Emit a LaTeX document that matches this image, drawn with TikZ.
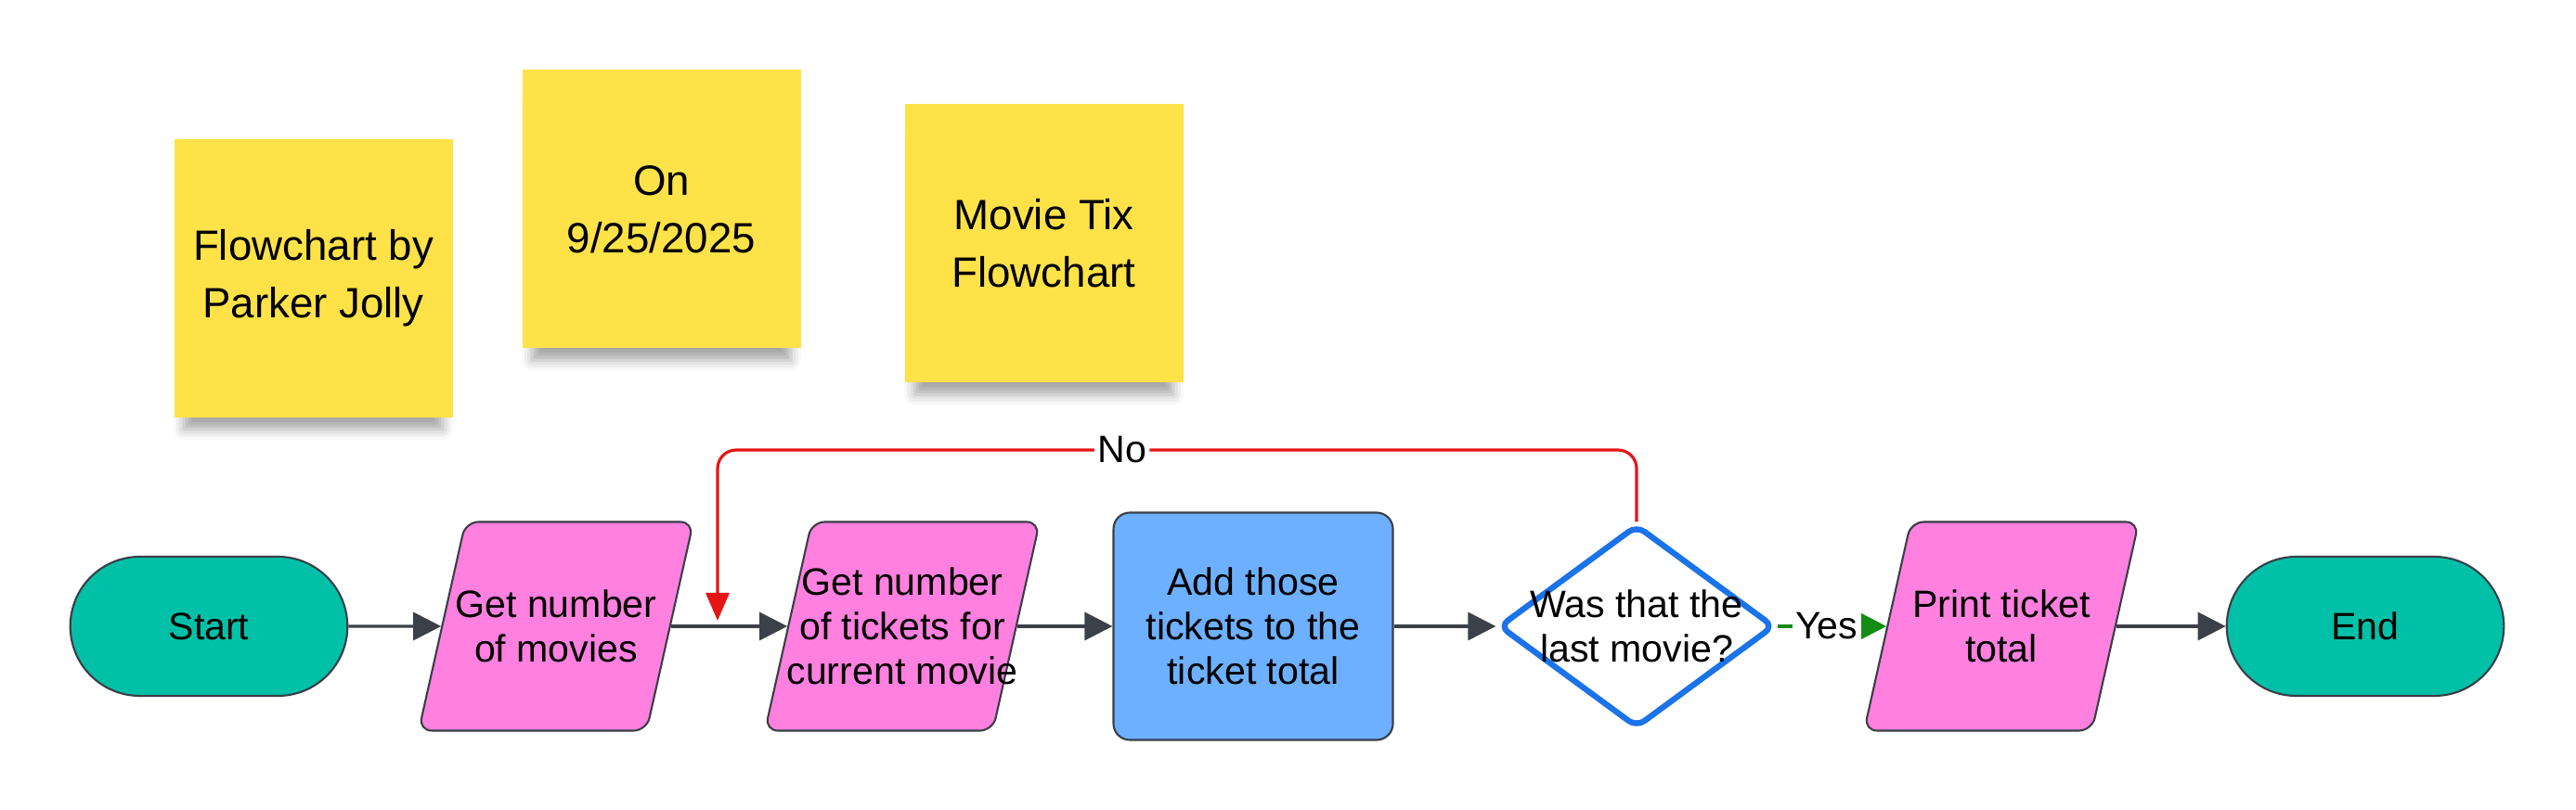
\documentclass[tikz,border=0pt]{standalone}
\usepackage{fontspec}
\setmainfont{Liberation Sans}
\usetikzlibrary{shapes.geometric,shapes.misc,arrows.meta,shadows.blur}
\definecolor{termcol}{RGB}{0,193,168}
\definecolor{iocol}{RGB}{255,128,223}
\definecolor{proccol}{RGB}{108,176,255}
\definecolor{deccol}{RGB}{26,115,232}
\definecolor{notecol}{RGB}{255,226,72}
\definecolor{edgecol}{RGB}{58,62,72}
\definecolor{linecol}{RGB}{60,64,72}
\definecolor{nocol}{RGB}{230,20,20}
\definecolor{yescol}{RGB}{20,140,20}
\begin{document}
\begin{tikzpicture}[font=\fontsize{11.7}{13.6}\selectfont,
  terminal/.style={rounded rectangle,draw=edgecol,fill=termcol,line width=0.6pt,minimum width=3.22cm,minimum height=1.5cm},
  io/.style={trapezium,trapezium left angle=75.5,trapezium right angle=104.5,trapezium stretches=true,draw=edgecol,fill=iocol,line width=0.6pt,rounded corners=4pt,minimum width=2.96cm,minimum height=2.25cm,inner sep=2pt},
  process/.style={rectangle,draw=edgecol,fill=proccol,line width=0.6pt,rounded corners=5pt,minimum width=3.01cm,minimum height=2.45cm,align=center},
  decision/.style={diamond,draw=deccol,fill=white,line width=1.8pt,rounded corners=3pt,minimum width=2.97cm,minimum height=2.19cm,inner sep=2pt},
  note/.style={rectangle,fill=notecol,minimum size=3cm,align=center,font=\fontsize{13}{17.6}\selectfont,
    blur shadow={shadow xshift=0pt,shadow yshift=-0.25cm,shadow scale=0.93,shadow blur radius=0.12cm,shadow opacity=35}},
  txt/.style={align=center},
  flow/.style={draw=linecol,line width=0.9pt,-{Triangle[length=0.3cm,width=0.3cm]}},
  noflow/.style={draw=nocol,line width=0.9pt,rounded corners=0.2cm,-{Triangle[length=0.3cm,width=0.25cm]}},
  yesflow/.style={draw=yescol,line width=1.1pt,-{Triangle[length=0.3cm,width=0.3cm]}},
  lbl/.style={fill=white,inner sep=1pt}]
  \useasboundingbox (0,0) rectangle (27.75,8.72);
  \node[note] (by) at (3.375,5.72) {Flowchart by\\Parker Jolly};
  \node[note] (date) at (7.125,6.465) {On\\9/25/2025};
  \node[note] (title) at (11.245,6.095) {Movie Tix\\Flowchart};
  \node[terminal] (start) at (2.25,1.97) {Start};
  \node[io,label={[txt]center:{Get number\\of movies}}] (getmov) at (5.99,1.97) {};
  \node[io,label={[txt]center:{Get number\\of tickets for\\current movie}}] (gettix) at (9.72,1.97) {};
  \node[process] (add) at (13.50,1.97) {Add those\\tickets to the\\ticket total};
  \node[decision,label={[txt]center:{Was that the\\last movie?}}] (last) at (17.63,1.97) {};
  \node[io,label={[txt]center:{Print ticket\\total}}] (print) at (21.56,1.97) {};
  \node[terminal] (end) at (25.48,1.97) {End};
  \coordinate (notop) at (7.73,3.87);
  \coordinate (noend) at (7.73,2.03);
  \draw[flow] (start) -- (getmov);
  \draw[flow] (getmov) -- (gettix);
  \draw[flow] (gettix) -- (add);
  \draw[flow] (add) -- (last);
  \draw[yesflow] (last) -- node[lbl,pos=0.45]{Yes} (print);
  \draw[flow] (print) -- (end);
  \draw[noflow] (last.north) |- node[lbl,pos=0.78]{No} (notop) -- (noend);
\end{tikzpicture}
\end{document}
